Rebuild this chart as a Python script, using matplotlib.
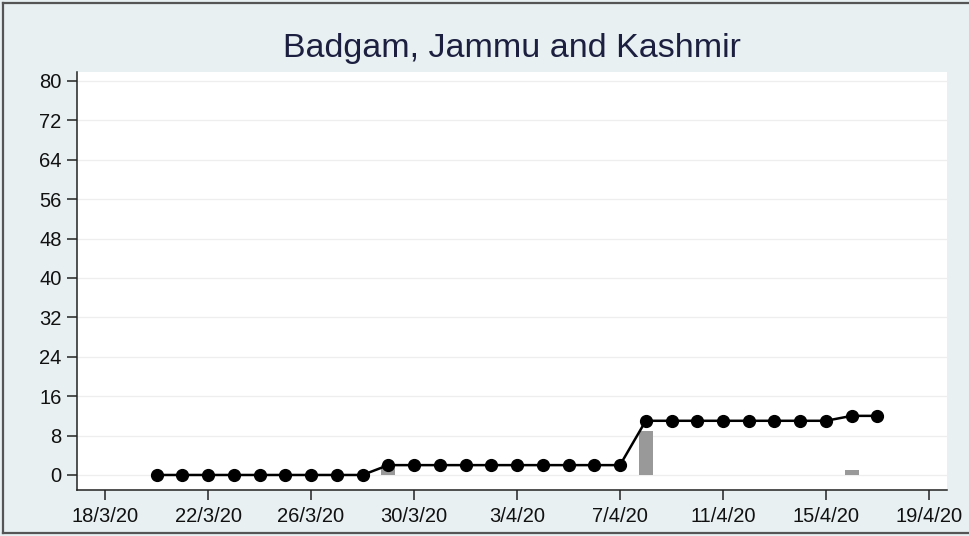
import datetime as dt
import matplotlib
matplotlib.use("Agg")
import matplotlib.pyplot as plt
import matplotlib.dates as mdates
from matplotlib.lines import Line2D

plt.rcParams["font.family"] = ["Liberation Sans", "DejaVu Sans"]

# cumulative cases, one point a day from 20/3/20
start_day = dt.date(2020, 3, 20)
cumulative = [0, 0, 0, 0, 0, 0, 0, 0, 0,
              2, 2, 2, 2, 2, 2, 2, 2, 2, 2,
              11, 11, 11, 11, 11, 11, 11, 11,
              12, 12]
days = [start_day + dt.timedelta(days=i) for i in range(len(cumulative))]

# new cases (bars)
bar_days = [dt.date(2020, 3, 29), dt.date(2020, 4, 8), dt.date(2020, 4, 16)]
new_cases = [2, 9, 1]

tick_days = [dt.date(2020, 3, 18) + dt.timedelta(days=4 * i) for i in range(9)]
y_ticks = list(range(0, 81, 8))

BG = "#e8f0f1"

fig = plt.figure(figsize=(9.7, 5.36), dpi=100, facecolor=BG)
ax = fig.add_axes([77 / 970, 1 - 490 / 536, 870 / 970, 418 / 536])
ax.set_facecolor("white")

ax.bar(bar_days, new_cases, width=0.55, color="#999999", zorder=2)
ax.plot(days, cumulative, color="black", lw=1.8, marker="o", ms=8.5,
        markerfacecolor="black", zorder=3)

x0 = mdates.date2num(dt.date(2020, 3, 18))
ax.set_xlim(x0 - 1.09, x0 + 32.7)
ax.set_ylim(-3.05, 81.8)

ax.set_xticks(tick_days)
ax.set_xticklabels([f"{d.day}/{d.month}/20" for d in tick_days])
ax.set_yticks(y_ticks)
ax.tick_params(axis="both", labelsize=14.5, length=7, width=1.1,
               color="#222222", labelcolor="#111111")
ax.tick_params(axis="x", pad=5)
ax.tick_params(axis="y", pad=4)

ax.grid(axis="y", color="#eeeeee", lw=0.9, zorder=0)
ax.grid(axis="x", visible=False)

for s in ["top", "right"]:
    ax.spines[s].set_visible(False)
for s in ["left", "bottom"]:
    ax.spines[s].set_color("#222222")
    ax.spines[s].set_linewidth(1.1)

fig.text(512 / 970, 1 - 49 / 536, "Badgam, Jammu and Kashmir", ha="center",
         va="center", fontsize=24.5, color="#1c1f3f")

# frame around the figure
for xs, ys in [((3 / 970, 3 / 970), (3 / 536, 533 / 536)),
               ((3 / 970, 1), (533 / 536, 533 / 536)),
               ((3 / 970, 1), (3 / 536, 3 / 536))]:
    fig.add_artist(Line2D(xs, ys, color="#555555", lw=1.6, transform=fig.transFigure))

fig.savefig("out.png", dpi=100, facecolor=BG)
